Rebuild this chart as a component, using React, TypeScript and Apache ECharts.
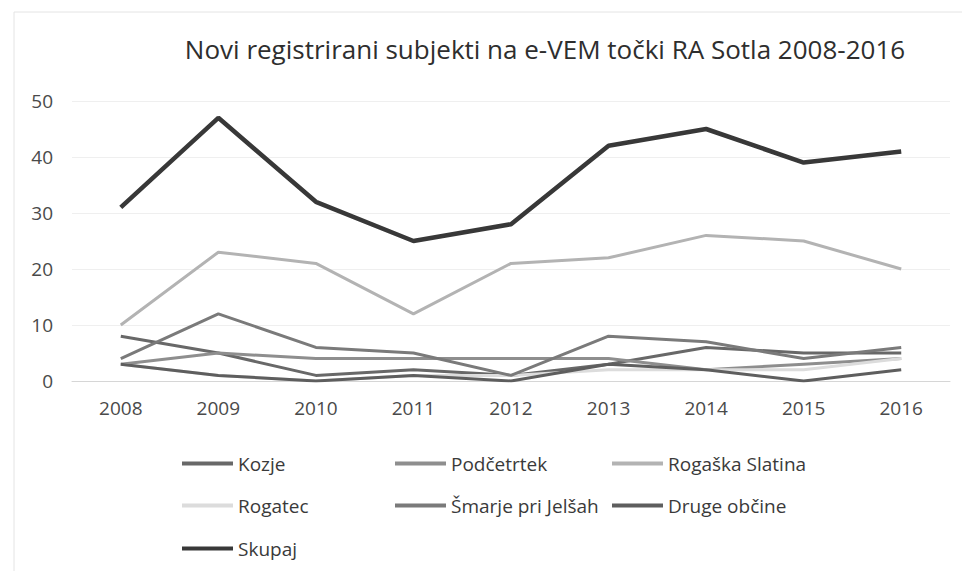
import React, { useEffect, useRef } from "react";
import * as echarts from "echarts";

const years = ["2008", "2009", "2010", "2011", "2012", "2013", "2014", "2015", "2016"];
const kozje = [8, 5, 1, 2, 1, 3, 6, 5, 5];
const podcetrtek = [3, 5, 4, 4, 4, 4, 2, 3, 4];
const rogaskaSlatina = [10, 23, 21, 12, 21, 22, 26, 25, 20];
const rogatec = [3, 1, 0, 1, 1, 2, 2, 2, 4];
const smarje = [4, 12, 6, 5, 1, 8, 7, 4, 6];
const druge = [3, 1, 0, 1, 0, 3, 2, 0, 2];
const skupaj = [31, 47, 32, 25, 28, 42, 45, 39, 41];

const seriesNames = ["Kozje", "Podčetrtek", "Rogaška Slatina", "Rogatec", "Šmarje pri Jelšah", "Druge občine", "Skupaj"];
const seriesData = [kozje, podcetrtek, rogaskaSlatina, rogatec, smarje, druge, skupaj];
const seriesColors = ["#686868", "#8e8e8e", "#b3b3b3", "#dcdcdc", "#7a7a7a", "#5e5e5e", "#383838"];
const seriesWidths = [3, 3, 3, 3, 3, 3, 4.5];

const legendPos = [
  { left: 177, top: 449 },
  { left: 390, top: 449 },
  { left: 607, top: 449 },
  { left: 177, top: 491 },
  { left: 390, top: 491 },
  { left: 607, top: 491 },
  { left: 177, top: 534 },
];

const FONT = "Open Sans";

export default function App() {
  const ref = useRef<HTMLDivElement>(null);
  useEffect(() => {
    if (!ref.current) return;
    const chart = echarts.init(ref.current, undefined, { renderer: "svg" });
    chart.setOption({
      animation: false,
      backgroundColor: "#ffffff",
      title: {
        text: "Novi registrirani subjekti na e-VEM točki RA Sotla 2008-2016",
        left: 540,
        top: 31,
        textAlign: "center",
        textStyle: { fontFamily: FONT, fontSize: 26, fontWeight: "normal", color: "#2e2e2e" },
      },
      grid: { left: 72, right: 12, top: 101, bottom: 190 },
      legend: seriesNames.map((n, i) => ({
        data: [n],
        left: legendPos[i].left,
        top: legendPos[i].top,
        icon: "rect",
        itemWidth: 51,
        itemHeight: 4,
        textStyle: { fontFamily: FONT, fontSize: 19, color: "#3a3a3a" },
      })),
      xAxis: {
        type: "category",
        data: years,
        boundaryGap: true,
        axisLine: { show: true, lineStyle: { color: "#d6d6d6", width: 1 } },
        axisTick: { show: false },
        axisLabel: { fontFamily: FONT, fontSize: 19, color: "#4a4a4a", margin: 17 },
      },
      yAxis: {
        type: "value",
        min: 0,
        max: 50,
        interval: 10,
        axisLine: { show: false },
        axisTick: { show: false },
        axisLabel: { fontFamily: FONT, fontSize: 19, color: "#4a4a4a", margin: 19 },
        splitLine: { show: true, lineStyle: { color: "#efefef", width: 1 } },
      },
      series: seriesNames.map((n, i) => ({
        name: n,
        type: "line",
        data: seriesData[i],
        showSymbol: false,
        symbol: "none",
        color: seriesColors[i],
        lineStyle: { color: seriesColors[i], width: seriesWidths[i] },
        z: i === 6 ? 10 : i === 2 ? 4 : 5,
      })),
      graphic: [
        { type: "line", shape: { x1: 14, y1: 12, x2: 962, y2: 12 }, style: { stroke: "#e4e4e4", lineWidth: 1 } },
        { type: "line", shape: { x1: 14, y1: 12, x2: 14, y2: 571 }, style: { stroke: "#e4e4e4", lineWidth: 1 } },
      ],
    });
    return () => chart.dispose();
  }, []);
  return <div ref={ref} style={{ position: "absolute", left: 0, top: 0, width: 962, height: 571 }} />;
}
